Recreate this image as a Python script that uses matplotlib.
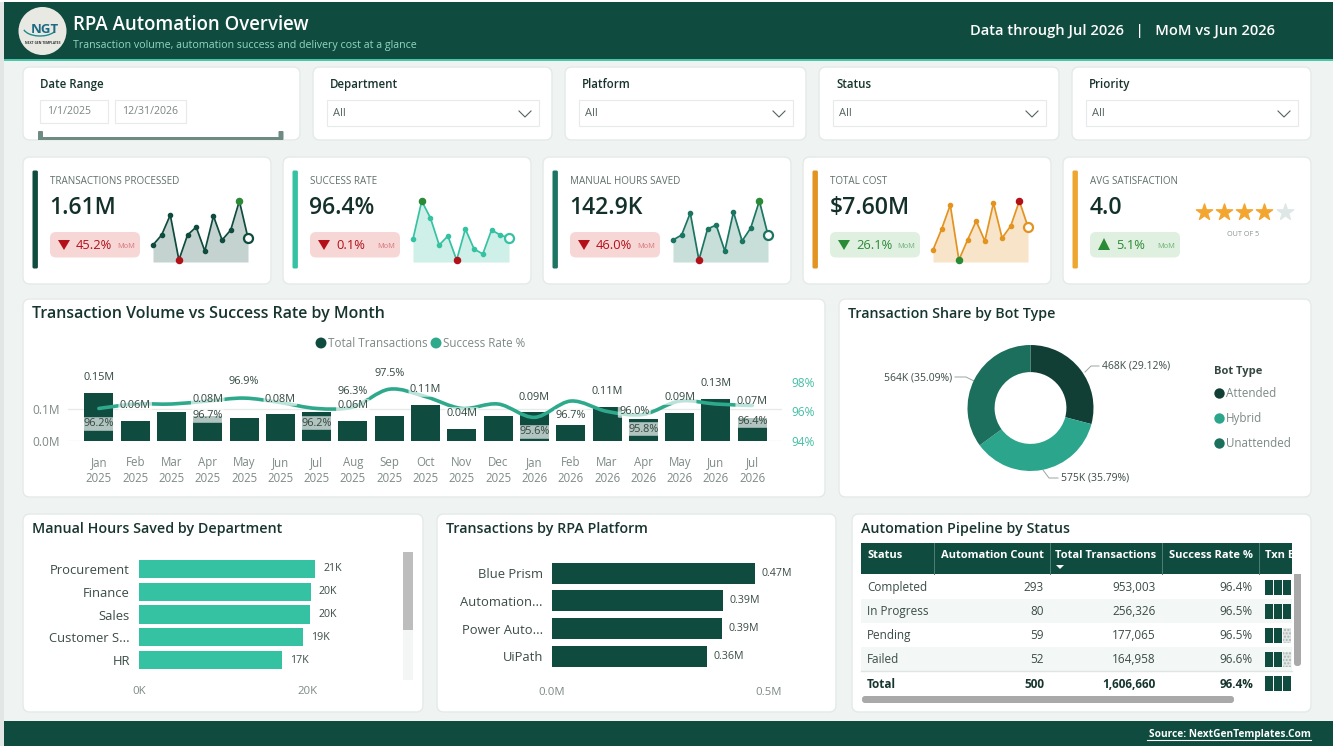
import numpy as np
from matplotlib import pyplot as plt
from matplotlib.patches import FancyBboxPatch, Rectangle, Circle, PathPatch, Polygon, Arc
from matplotlib.path import Path
from matplotlib.transforms import blended_transform_factory

plt.rcParams['font.family'] = ['Open Sans', 'DejaVu Sans']

W, H = 1333, 746

# data
months = ['Jan\n2025', 'Feb\n2025', 'Mar\n2025', 'Apr\n2025', 'May\n2025', 'Jun\n2025', 'Jul\n2025', 'Aug\n2025',
          'Sep\n2025', 'Oct\n2025', 'Nov\n2025', 'Dec\n2025', 'Jan\n2026', 'Feb\n2026', 'Mar\n2026', 'Apr\n2026',
          'May\n2026', 'Jun\n2026', 'Jul\n2026']
txn_m = [0.15, 0.063, 0.093, 0.08, 0.074, 0.084, 0.09, 0.063, 0.08, 0.112, 0.038, 0.079, 0.09, 0.05, 0.108, 0.07,
         0.087, 0.134, 0.072]
rate = [96.2, 96.5, 96.5, 96.7, 96.9, 96.6, 96.2, 96.3, 97.5, 97.0, 96.2, 96.5, 95.6, 96.7, 96.0, 95.8, 96.7, 96.5,
        96.4]

spark_txn = [17, 27, 47, 2, 27, 35, 11, 46, 22, 32, 61, 24]
spark_rate = [23, 61, 44, 17, 26, 2, 33, 13, 8, 32, 27, 24]
spark_hours = [22, 27, 49, 2, 33, 37, 11, 50, 21, 34, 61, 27]
spark_cost = [12, 33, 57, 2, 22, 41, 21, 59, 24, 36, 61, 35]

bot_names = ['Attended', 'Hybrid', 'Unattended']
bot_values = [467860, 575024, 563776]

dept_names = ['Procurement', 'Finance', 'Sales', 'Customer S...', 'HR']
dept_hours = [20.8, 20.3, 20.2, 19.4, 16.9]

plat_names = ['Blue Prism', 'Automation...', 'Power Auto...', 'UiPath']
plat_txn = [0.468, 0.394, 0.392, 0.357]

table_cols = ['Status', 'Automation Count', 'Total Transactions', 'Success Rate %']
table_status = ['Completed', 'In Progress', 'Pending', 'Failed', 'Total']
table_count = ['293', '80', '59', '52', '500']
table_total = ['953,003', '256,326', '177,065', '164,958', '1,606,660']
table_rate = ['96.4%', '96.5%', '96.5%', '96.6%', '96.4%']
table_segs = [3, 3, 2, 2, 3]

slicers = ['Department', 'Platform', 'Status', 'Priority']

# colours
DARK = '#0f4b3e'
TEAL = '#35c2a3'
MID = '#1b7562'
ORANGE = '#e39320'
INK = '#17352e'
GREY = '#7d8a86'
RED = '#b3101a'
GREEN = '#2b8a35'

fig = plt.figure(figsize=(W / 100, H / 100), dpi=100, facecolor='#eff4f2')
bg = fig.add_axes([0, 0, 1, 1])
bg.set_xlim(0, W)
bg.set_ylim(H, 0)
bg.axis('off')


def px_axes(x0, y0, x1, y1):
    a = fig.add_axes([x0 / W, 1 - y1 / H, (x1 - x0) / W, (y1 - y0) / H])
    a.patch.set_alpha(0)
    return a


def card(x0, y0, x1, y1, r=7):
    bg.add_patch(FancyBboxPatch((x0 + r, y0 + r), x1 - x0 - 2 * r, y1 - y0 - 2 * r,
                                boxstyle='round,pad=%d,rounding_size=%d' % (r, r),
                                fc='white', ec='#e3eae7', lw=1))


def pill(x0, y0, x1, y1, color, r=6):
    bg.add_patch(FancyBboxPatch((x0 + r, y0 + r), x1 - x0 - 2 * r, y1 - y0 - 2 * r,
                                boxstyle='round,pad=%d,rounding_size=%d' % (r, r), fc=color, ec='none'))


def txt(x, y, s, size, color=INK, ha='left', weight='normal', **kw):
    # +1 because open sans sits a bit high when centred
    return bg.text(x, y + 1, s, fontsize=size, color=color, ha=ha, va='center', fontweight=weight, **kw)


# page frame, header and footer
bg.add_patch(Rectangle((0, 0), 4, H, fc='#e2e6e4', ec='none'))
bg.add_patch(Rectangle((0, 0), W, 2, fc='white', ec='none'))
bg.add_patch(Rectangle((4, 2), W - 4, 57, fc=DARK, ec='none'))
bg.add_patch(Rectangle((4, 59), W - 4, 1.5, fc='#49c7a8', ec='none'))
bg.add_patch(Rectangle((4, 721), W - 4, 25, fc=DARK, ec='none'))
txt(1311, 733, 'Source: NextGenTemplates.Com', 7.3, 'white', ha='right', weight='bold')
bg.plot([1147, 1311], [739.5, 739.5], color='white', lw=0.8)

bg.add_patch(Circle((42.5, 31), 24, fc='#e9e9e4', ec='none'))
bg.add_patch(Arc((40, 27), 34, 18, theta1=20, theta2=170, color='#1f8a8a', lw=1))
txt(45, 28.5, 'NGT', 9.5, '#1d6a84', ha='center', weight='bold')
txt(43, 42, 'NEXT GEN TEMPLATES', 2.3, '#333333', ha='center', weight='bold')
txt(73, 24, 'RPA Automation Overview', 13.4, 'white', weight='semibold')
txt(73, 44.5, 'Transaction volume, automation success and delivery cost at a glance', 7.7, '#8fd8c2')
txt(1275, 29.5, 'Data through Jul 2026   |   MoM vs Jun 2026', 10.6, 'white', ha='right', weight='semibold')

# slicers
card(23, 67, 300, 140)
txt(40, 83.5, 'Date Range', 8.3, INK, weight='semibold')
for x0, x1, s in [(40, 108, '1/1/2025'), (115, 186, '12/31/2026')]:
    bg.add_patch(Rectangle((x0, 99.5), x1 - x0, 23, fc='white', ec='#e6eaea', lw=0.8))
    txt(x0 + 7, 110.5, s, 7.6, '#7a8582')
bg.add_patch(Rectangle((38, 137), 245, 3, fc='#6f8a82', ec='none'))
for x in [40.5, 281]:
    bg.add_patch(FancyBboxPatch((x - 1.5, 132), 3, 7, boxstyle='round,pad=1', fc='#6f8a82', ec='none'))

for name, x0, x1 in zip(slicers, [313, 565, 819, 1072], [552, 806, 1059, 1311]):
    card(x0, 67, x1, 140)
    txt(x0 + 17, 83.5, name, 8.3, INK, weight='semibold')
    bg.add_patch(Rectangle((x0 + 14, 99.5), x1 - x0 - 27, 26, fc='white', ec='#e6eaea', lw=0.8))
    txt(x0 + 20, 113, 'All', 8, '#55645f')
    cx = x1 - 27
    bg.plot([cx - 6, cx, cx + 6], [111, 117, 111], color='#55645f', lw=0.8)

# kpi cards
kpis = [('TRANSACTIONS PROCESSED', '1.61M', '45.2%', DARK, spark_txn, False, 153, 248),
        ('SUCCESS RATE', '96.4%', '0.1%', TEAL, spark_rate, False, 413, 509),
        ('MANUAL HOURS SAVED', '142.9K', '46.0%', MID, spark_hours, False, 673, 768),
        ('TOTAL COST', '$7.60M', '26.1%', ORANGE, spark_cost, True, 933, 1028),
        ('AVG SATISFACTION', '4.0', '5.1%', '#efa630', None, True, 0, 0)]
for k, (title, val, pct, col, spark, good, sx0, sx1) in enumerate(kpis):
    off = 260 * k
    card(23 + off, 157, 271 + off, 284)
    bg.add_patch(FancyBboxPatch((34 + off, 172), 2.4, 95, boxstyle='round,pad=1.5', fc=col, ec='none'))
    txt(50 + off, 180, title, 7.1, '#5f6f6a')
    txt(49.5 + off, 207, val, 16.6, '#14302a', weight='semibold')
    pill(50 + off, 232, 140 + off, 257.5, '#dfefe0' if good else '#f7d6d6')
    c = GREEN if good else RED
    if k == 4:
        tri = [(58, 250), (70, 250), (64, 238)]
    else:
        tri = [(58, 240), (70, 240), (64, 250)]
    bg.add_patch(Polygon([(x + off, y) for x, y in tri], fc=c, ec='none'))
    txt(76 + off, 244.5, pct, 9.3, c)
    txt(135 + off, 245.5, 'MoM', 5.4, '#d9767a' if not good else '#6fb276', ha='right')
    if spark is None:
        continue
    a = px_axes(sx0, 192, sx1, 262)
    a.axis('off')
    xs = np.arange(len(spark))
    a.set_xlim(0, len(spark) - 1)
    a.set_ylim(0, 70)
    a.fill_between(xs, spark, 0, color=col, alpha=0.24, lw=0)
    a.plot(xs, spark, color=col, lw=1.25, marker='o', ms=3, clip_on=False)
    hi, lo = int(np.argmax(spark)), int(np.argmin(spark))
    a.plot(hi, spark[hi], 'o', ms=4.4, color='#b3101a' if good else '#2b8a35', clip_on=False, zorder=5)
    a.plot(lo, spark[lo], 'o', ms=4.4, color='#2b8a35' if good else '#b3101a', clip_on=False, zorder=5)
    a.plot(xs[-1], spark[-1], 'o', ms=6.5, mfc='white', mec=col, mew=1.6, clip_on=False, zorder=5)

# stars
rating = 4
for i in range(5):
    c = '#f3a52f' if i < rating else '#dfe6e6'
    bg.scatter(1203.6 + 20.25 * i, 212, marker='*', s=150, color=c, edgecolors=c, lw=1)
txt(1243, 233.5, 'OUT OF 5', 5.2, '#8a9592', ha='center')

# volume vs success chart
card(23, 299, 825, 497)
txt(32, 313, 'Transaction Volume vs Success Rate by Month', 11.5, INK, weight='semibold')
bg.scatter([321, 436], [343, 343], s=62, color=[DARK, '#2fa98c'], lw=0)
txt(328, 342.5, 'Total Transactions', 8.4, GREY)
txt(443, 342.5, 'Success Rate %', 8.4, GREY)

ax = px_axes(68, 370, 782, 441)
xx = np.arange(len(months))
ax.bar(xx, txn_m, width=0.8, color=DARK, zorder=2)
ax.set_xlim(-0.85, 18.82)
ax.set_ylim(0, 0.224)
ax.set_yticks([0, 0.1], ['0.0M', '0.1M'])
ax.set_xticks(xx, months)
ax.tick_params(axis='both', length=0, labelcolor=GREY)
ax.tick_params(axis='y', labelsize=8.6, pad=6)
ax.tick_params(axis='x', labelsize=8.3, pad=11)
ax.grid(axis='y', color='#e6ebe9', lw=1, zorder=0)
for s in ax.spines.values():
    s.set_visible(False)
for lab in ax.get_xticklabels():
    lab.set_linespacing(1.25)

ax2 = ax.twinx()
ax2.set_ylim(94, 98.8)
ax2.set_yticks([94, 96, 98], ['94%', '96%', '98%'])
ax2.tick_params(axis='y', length=0, labelsize=8.6, labelcolor='#45bfa5', pad=7)
for s in ax2.spines.values():
    s.set_visible(False)

# smooth line through the monthly values
pts = np.column_stack([xx, rate])
verts = [pts[0]]
codes = [Path.MOVETO]
for i in range(len(pts) - 1):
    p0 = pts[max(i - 1, 0)]
    p1 = pts[i]
    p2 = pts[i + 1]
    p3 = pts[min(i + 2, len(pts) - 1)]
    verts += [p1 + (p2 - p0) / 6, p2 - (p3 - p1) / 6, p2]
    codes += [Path.CURVE4] * 3
ax2.add_patch(PathPatch(Path(verts, codes), fc='none', ec='#2fa98c', lw=2.6, zorder=3, capstyle='round'))

tr = blended_transform_factory(ax2.transData, bg.transData)
box = dict(boxstyle='round,pad=0.12', fc='white', ec='none', alpha=0.68)
# month index -> pixel height of the label
txn_label_y = {0: 378, 1: 406, 3: 400, 5: 399, 7: 406, 9: 390, 10: 414, 12: 397, 14: 391, 16: 398, 17: 383, 18: 402}
rate_label_y = {0: 424, 3: 416, 4: 382, 6: 423, 7: 391, 8: 373, 12: 432, 13: 416, 14: 411, 15: 429, 18: 421}
for i, y in txn_label_y.items():
    ax2.text(i, y, '%.2fM' % txn_m[i], transform=tr, fontsize=7.8, color='#33473f', ha='center', va='center',
             zorder=6, bbox=box)
for i, y in rate_label_y.items():
    dx = 0.75 if i == 14 else 0
    ax2.text(i + dx, y, '%.1f%%' % rate[i], transform=tr, fontsize=7.8, color='#33473f', ha='center', va='center',
             zorder=6, bbox=box)

# donut
card(839, 299, 1311, 497)
txt(848, 313, 'Transaction Share by Bot Type', 10.3, INK, weight='semibold')
dn = px_axes(967.5, 345, 1093.5, 471)
bot_colors = ['#123f35', '#2ca58d', '#1b6f5c']
dn.pie(bot_values, colors=bot_colors, startangle=90, counterclock=False, radius=1,
       wedgeprops=dict(width=0.43, edgecolor='none'))
dn.set_xlim(-1, 1)
dn.set_ylim(-1, 1)
total = sum(bot_values)
bot_labels = ['%dK (%.2f%%)' % (round(v / 1000), 100 * v / total) for v in bot_values]
txt(1102, 365.5, bot_labels[0], 7.5, '#3b4c47')
txt(1061, 477.5, bot_labels[1], 7.5, '#3b4c47')
txt(952, 376.5, bot_labels[2], 7.5, '#3b4c47', ha='right')
bg.plot([1085, 1091, 1099], [372, 366, 366], color='#9aa5a2', lw=0.7)
bg.plot([1043, 1049, 1058], [470, 478, 478], color='#9aa5a2', lw=0.7)
bg.plot([955, 966, 974], [377, 377, 381], color='#9aa5a2', lw=0.7)
txt(1214, 370.5, 'Bot Type', 8, '#33473f', weight='bold')
for name, y, c in zip(bot_names, [393, 418, 443], bot_colors):
    bg.scatter(1219, y, s=56, color=c, lw=0)
    txt(1226, y - 0.5, name, 8.4, GREY)

# hours by department
card(23, 514, 423, 712)
txt(32, 528.5, 'Manual Hours Saved by Department', 10.3, INK, weight='semibold')
ah = px_axes(139, 557.5, 393, 671.5)
yy = np.arange(len(dept_names))
ah.barh(yy, dept_hours, height=0.8, color=TEAL)
ah.set_xlim(0, 30.06)
ah.set_ylim(len(dept_names) - 0.5, -0.5)
ah.set_yticks(yy, dept_names)
ah.set_xticks([0, 20], ['0K', '20K'])
ah.tick_params(axis='both', length=0)
ah.tick_params(axis='y', labelsize=9.4, labelcolor='#3b4c47', pad=6.5)
ah.tick_params(axis='x', labelsize=8.2, labelcolor=GREY, pad=10.5)
for s in ah.spines.values():
    s.set_visible(False)
for i, v in enumerate(dept_hours):
    ah.text(v + 1, i, '%dK' % round(v), fontsize=7.7, color='#3b4c47', va='center')
bg.add_patch(Rectangle((403, 552), 10, 128, fc='#f4f5f5', ec='none'))
bg.add_patch(Rectangle((403, 552), 10, 78, fc='#bdbdbd', ec='none'))

# txn by platform
card(437, 514, 836, 712)
txt(446, 528.5, 'Transactions by RPA Platform', 10.3, INK, weight='semibold')
ap = px_axes(552, 559.5, 826, 670)
yy = np.arange(len(plat_names))
ap.barh(yy, plat_txn, height=0.76, color=DARK)
ap.set_xlim(0, 0.631)
ap.set_ylim(len(plat_names) - 0.5, -0.5)
ap.set_yticks(yy, plat_names)
ap.set_xticks([0, 0.5], ['0.0M', '0.5M'])
ap.tick_params(axis='both', length=0)
ap.tick_params(axis='y', labelsize=9.4, labelcolor='#3b4c47', pad=6.5)
ap.tick_params(axis='x', labelsize=8.2, labelcolor=GREY, pad=12.5)
for s in ap.spines.values():
    s.set_visible(False)
for i, v in enumerate(plat_txn):
    ap.text(v + 0.014, i, '%.2fM' % v, fontsize=7.7, color='#3b4c47', va='center')

# pipeline table
card(852, 514, 1311, 712)
txt(861, 528.5, 'Automation Pipeline by Status', 10.3, INK, weight='semibold')
bg.add_patch(Rectangle((861, 543), 431, 31, fc=DARK, ec='none'))
for x in [934, 1050, 1162, 1259]:
    bg.plot([x, x], [543, 574], color='#4f7f73', lw=0.7)
txt(867, 555, table_cols[0], 8, 'white', weight='bold')
txt(1044, 555, table_cols[1], 8, 'white', weight='bold', ha='right')
txt(1156, 555, table_cols[2], 8, 'white', weight='bold', ha='right')
txt(1253, 555, table_cols[3], 8, 'white', weight='bold', ha='right')
txt(1265, 555, 'Txn B', 8, 'white', weight='bold')
bg.add_patch(Rectangle((1292, 543), 9, 31, fc='white', ec='none', zorder=3))
bg.add_patch(Polygon([(1056, 565), (1064, 565), (1060, 569)], fc='white', ec='none'))
row_y = [586.5, 610.5, 634.5, 658.5, 683]
for i, y in enumerate(row_y):
    last = i == len(row_y) - 1
    w = 'bold' if last else 'normal'
    c = INK if last else '#3b4c47'
    if i in (1, 3):
        bg.add_patch(Rectangle((861, y - 12), 431, 24, fc='#f3f7f5', ec='none'))
    txt(867, y, table_status[i], 8.5, c, weight=w)
    txt(1044, y, table_count[i], 8.5, c, ha='right', weight=w)
    txt(1156, y, table_total[i], 8.5, c, ha='right', weight=w)
    txt(1253, y, table_rate[i], 8.5, c, ha='right', weight=w)
    for s in range(3):
        x0 = 1265 + 9 * s
        if s < table_segs[i]:
            bg.add_patch(Rectangle((x0, y - 7), 8.2, 15, fc=DARK, ec='none'))
        else:
            bg.add_patch(Rectangle((x0, y - 7), 8.2, 15, fc='#dfe6e3', ec='#a9b5b1', lw=0, hatch='.....'))
bg.plot([861, 1292], [671, 671], color='#dfe5e3', lw=1)
bg.add_patch(FancyBboxPatch((865, 699), 366, 1, boxstyle='round,pad=3', fc='#a9a9a9', ec='none'))
bg.add_patch(FancyBboxPatch((1297, 546), 1, 117, boxstyle='round,pad=3', fc='#a9a9a9', ec='none'))

plt.savefig('out.png', dpi=100, facecolor=fig.get_facecolor())
